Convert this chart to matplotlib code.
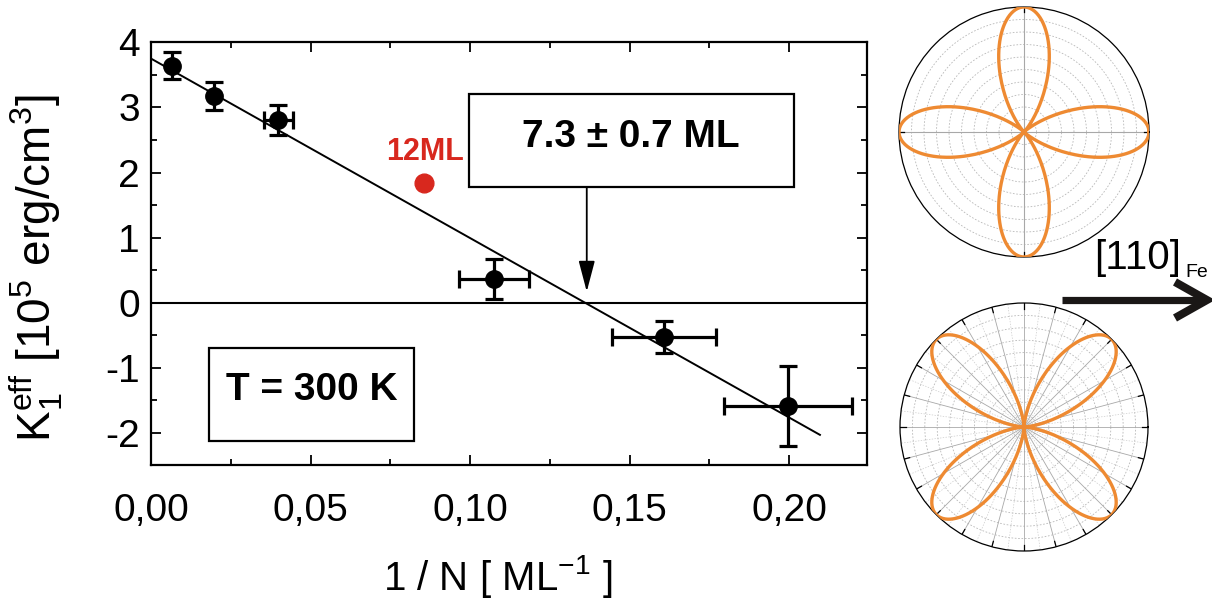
import numpy as np
import matplotlib
matplotlib.use("Agg")
import matplotlib.pyplot as plt
from matplotlib.ticker import MultipleLocator, FuncFormatter
from matplotlib.patches import Rectangle, FancyArrowPatch
from matplotlib.lines import Line2D

plt.rcParams['font.family'] = ['Liberation Sans', 'DejaVu Sans']
plt.rcParams['mathtext.fontset'] = 'custom'
plt.rcParams['mathtext.rm'] = 'Liberation Sans'
plt.rcParams['mathtext.it'] = 'Liberation Sans'
plt.rcParams['mathtext.bf'] = 'Liberation Sans:bold'

# ---------------- data ----------------
inv_N = [0.0065, 0.0198, 0.0399, 0.1074, 0.1608, 0.1997]
K1_eff = [3.64, 3.175, 2.806, 0.36, -0.53, -1.59]
K1_err = [0.21, 0.215, 0.23, 0.31, 0.25, 0.61]
inv_N_err = [0.0, 0.0, 0.0045, 0.011, 0.0164, 0.020]

fit_inv_N = [0.0, 0.2097]
fit_K1 = [3.75, -2.03]

ml12_inv_N = [0.0856]
ml12_K1 = [1.84]

x_ticks = [0.00, 0.05, 0.10, 0.15, 0.20]
y_ticks = [-2, -1, 0, 1, 2, 3, 4]

top_lobe_offset_deg = 0.0     # lobes along 0/90/180/270 deg
bottom_lobe_offset_deg = 45.0  # lobes along 45/135/225/315 deg

orange = '#EE8A32'
red = '#D8281E'

W, H = 1212, 601
fig = plt.figure(figsize=(W / 100, H / 100), dpi=100)

# ---------------- main axes ----------------
x0_px, x1_px = 151, 867
y_top_px, y_bot_px = 42.3, 464.8
ax = fig.add_axes([x0_px / W, 1 - y_bot_px / H, (x1_px - x0_px) / W, (y_bot_px - y_top_px) / H])
ax.set_xlim(0, 0.22445)
ax.set_ylim(-2.49, 4.0)

ax.plot(fit_inv_N, fit_K1, color='black', lw=1.4, zorder=2)
ax.axhline(0, color='black', lw=1.5, zorder=1)
ax.errorbar(inv_N, K1_eff, yerr=K1_err, xerr=inv_N_err, fmt='o', color='black',
            ms=12.5, elinewidth=2.3, capsize=6.5, capthick=2.3, zorder=3)
ax.plot(ml12_inv_N, ml12_K1, 'o', color=red, ms=13.5, mec=red, zorder=3)
ax.text(ml12_inv_N[0] + 0.0003, 2.31, '12ML', color=red, fontsize=22, fontweight='bold',
        ha='center', va='center')

# boxes
ax.add_patch(Rectangle((0.0997, 1.777), 0.2016 - 0.0997, 3.206 - 1.777, fill=False,
                       lw=1.6, edgecolor='black', zorder=4))
ax.text(0.1505, 2.55, '7.3 ± 0.7 ML', fontsize=28, fontweight='bold',
        ha='center', va='center')
ax.add_patch(Rectangle((0.0181, -2.124), 0.0825 - 0.0181, 2.124 - 0.696, fill=False,
                       lw=1.6, edgecolor='black', zorder=4))
ax.text(0.0503, -1.34, 'T = 300 K', fontsize=28, fontweight='bold',
        ha='center', va='center')

arr = FancyArrowPatch((0.1366, 1.777), (0.1366, 0.17),
                      arrowstyle='-|>,head_length=19,head_width=5', mutation_scale=1,
                      color='black', lw=1.3, shrinkA=0, shrinkB=0, zorder=4)
ax.add_patch(arr)

ax.xaxis.set_minor_locator(MultipleLocator(0.025))
ax.yaxis.set_minor_locator(MultipleLocator(0.5))
ax.set_xticks(x_ticks)
ax.set_yticks(y_ticks)
ax.xaxis.set_major_formatter(FuncFormatter(lambda v, p: f'{v:.2f}'.replace('.', ',')))
ax.yaxis.set_major_formatter(FuncFormatter(lambda v, p: f'{v:.0f}'))
ax.tick_params(which='both', direction='in', top=True, right=True, width=1.3)
ax.tick_params(which='major', length=7)
ax.tick_params(which='minor', length=4.5)
ax.tick_params(axis='x', which='major', pad=20, labelsize=28)
ax.tick_params(axis='y', which='major', pad=8, labelsize=28)
for s in ax.spines.values():
    s.set_linewidth(1.6)

fig.text(36 / W, 1 - 268 / H, r'K$_1^{\rm eff}$ [10$^5$ erg/cm$^3$]', rotation=90,
         fontsize=33, ha='center', va='center')
fig.text(498 / W, 1 - 576 / H, r'1 / N [ ML$^{-1}$ ]', fontsize=29,
         ha='center', va='center')

# ---------------- polar plots ----------------
def polar_panel(rect, offset_deg, full_grid):
    pa = fig.add_axes(rect, projection='polar')
    pa.set_ylim(0, 1)
    pa.grid(False)
    pa.set_xticks([])
    pa.set_yticks([])
    pa.spines['polar'].set_linewidth(0.9)
    th = np.linspace(0, 2 * np.pi, 721)
    for r in np.arange(0.1, 1.0, 0.1):
        pa.plot(th, np.full_like(th, r), color='#b8b8b8', lw=0.6, ls=(0, (2, 2)), zorder=1)
    if full_grid:
        for d in np.arange(0, 360, 7.5):
            t = np.deg2rad(d)
            if d % 15 == 0:
                pa.plot([t, t], [0, 1], color='#a8a8a8', lw=0.6, zorder=1)
                pa.plot([t, t], [0.955, 1], color='black', lw=0.9, zorder=2)
            else:
                pa.plot([t, t], [0, 1], color='#cccccc', lw=0.5, ls=(0, (2, 2)), zorder=1)
    else:
        for d in [0, 90, 180, 270]:
            t = np.deg2rad(d)
            pa.plot([t, t], [0, 1], color='#a8a8a8', lw=0.8, zorder=1)
            pa.plot([t, t], [0.96, 1], color='black', lw=0.9, zorder=2)
    rr = np.cos(2 * (th - np.deg2rad(offset_deg))) ** 2
    pa.plot(th, rr, color=orange, lw=2.4, zorder=3)
    return pa

polar_panel([899 / W, 1 - 257 / H, 250 / W, 250 / H], top_lobe_offset_deg, False)
polar_panel([900 / W, 1 - 551 / H, 248 / W, 248 / H], bottom_lobe_offset_deg, True)

# ---------------- [110]_Fe arrow ----------------
fig.text(1094 / W, 1 - 269 / H, '[110]', fontsize=29, ha='left', va='baseline')
fig.text(1185 / W, 1 - 277 / H, 'Fe', fontsize=14, ha='left', va='baseline')
fig.add_artist(Line2D([1062 / W, 1203 / W], [1 - 300 / H, 1 - 300 / H], lw=5.2,
                      color='#1a1716', transform=fig.transFigure, solid_capstyle='butt'))
fig.add_artist(Line2D([1175 / W, 1207 / W, 1175 / W], [1 - 282 / H, 1 - 300 / H, 1 - 318 / H],
                      lw=5.8, color='#1a1716', transform=fig.transFigure,
                      solid_capstyle='butt', solid_joinstyle='miter'))

fig.savefig('out.png', dpi=100)
